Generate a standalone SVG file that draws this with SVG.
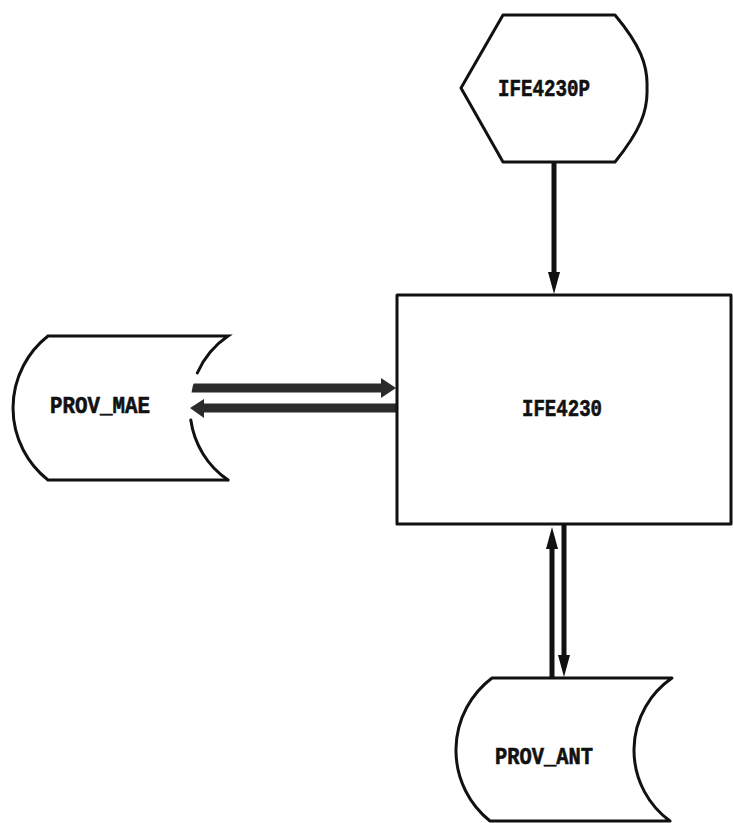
<svg xmlns="http://www.w3.org/2000/svg" width="733" height="823" viewBox="0 0 733 823">
<style>
.shape{fill:#ffffff;stroke:#111;stroke-width:3;stroke-linejoin:round}
.outline{fill:none;stroke:#111;stroke-width:3;stroke-linecap:round}
.lbl{font-family:"Liberation Mono","DejaVu Sans Mono",monospace;font-weight:bold;font-size:23px;fill:#111;text-anchor:middle;stroke:#111;stroke-width:0.6}
.thin{stroke:#111;stroke-width:5;fill:none}
.thick{stroke:#2b2b2b;stroke-width:9;fill:none}
.headThin{fill:#111}
.headThick{fill:#2b2b2b}
</style>
<rect width="733" height="823" fill="#ffffff"/>
<g id="connectors">
  <line class="thin" x1="554" y1="162" x2="554" y2="275"/>
  <polygon class="headThin" points="548,272 560,272 554,294"/>
  <line class="thick" x1="190" y1="388" x2="382" y2="388"/>
  <polygon class="headThick" points="381,378 381,398 396,388"/>
  <line class="thick" x1="203" y1="408" x2="396" y2="408"/>
  <polygon class="headThick" points="204,399 204,418 190,408"/>
  <line class="thin" x1="552" y1="678" x2="552" y2="545"/>
  <polygon class="headThin" points="546,549 558,549 552,527"/>
  <line class="thin" x1="564" y1="525" x2="564" y2="657"/>
  <polygon class="headThin" points="558,655 570,655 564,677"/>
</g>
<g id="IFE4230P">
  <path class="shape" d="M503,15 L615,15 C640,45 648,65 647,88 C648,111 640,131 615,162 L503,162 L461,88 Z"/>
  <text class="lbl" x="544" y="96" textLength="92" lengthAdjust="spacingAndGlyphs">IFE4230P</text>
</g>
<g id="IFE4230">
  <rect class="shape" x="397" y="295" width="334" height="229"/>
  <text class="lbl" x="562" y="416" textLength="80" lengthAdjust="spacingAndGlyphs">IFE4230</text>
</g>
<g id="PROV_MAE">
  <path fill="#ffffff" d="M48,336 L228,336 A87.2,87.2 0 0 0 228,480 L48,480 A91.6,91.6 0 0 1 48,336 Z"/>
  <path class="outline" d="M228,480 L48,480 A91.6,91.6 0 0 1 48,336 L228,336 A87.2,87.2 0 0 0 197.3,373"/>
  <path class="outline" d="M190.8,420 A87.2,87.2 0 0 0 228,480"/>
  <text class="lbl" x="100" y="413" textLength="100" lengthAdjust="spacingAndGlyphs">PROV_MAE</text>
</g>
<g id="PROV_ANT">
  <path class="shape" d="M492,678 L672,678 A87.6,87.6 0 0 0 670,821 L490,821 A90.5,90.5 0 0 1 492,678 Z"/>
  <text class="lbl" x="544" y="764" textLength="98" lengthAdjust="spacingAndGlyphs">PROV_ANT</text>
</g>
</svg>
